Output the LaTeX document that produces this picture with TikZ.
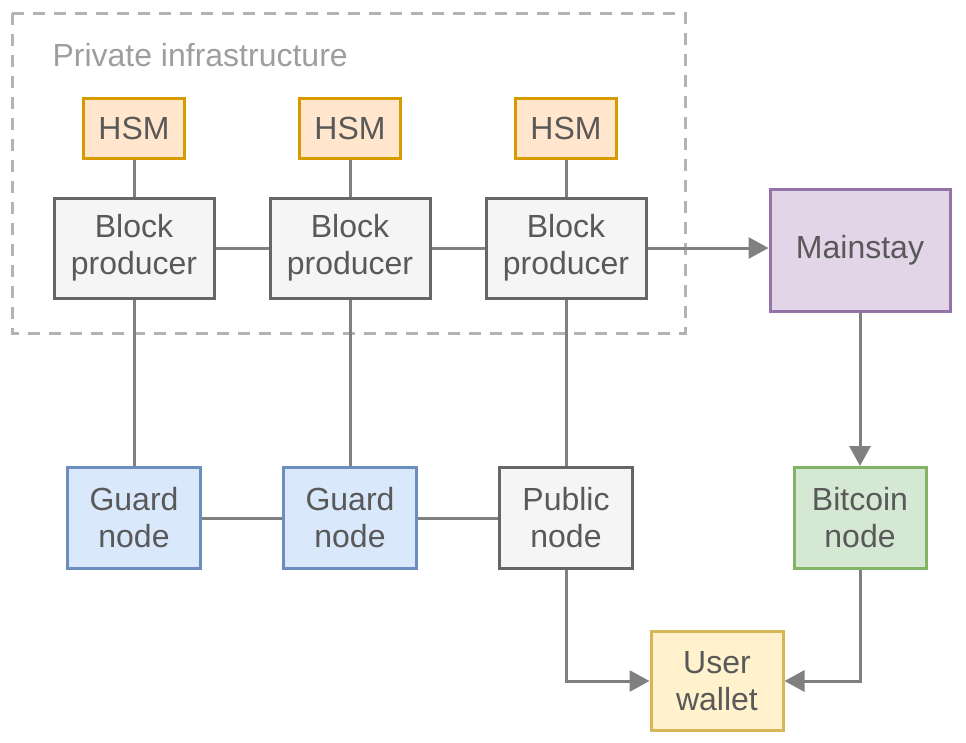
\documentclass[tikz,border=0pt]{standalone}
\usepackage{fontspec}
\setmainfont{Liberation Sans}
\usetikzlibrary{positioning,arrows.meta}

\definecolor{txtgray}{HTML}{595959}
\definecolor{lblgray}{HTML}{9E9E9E}
\definecolor{linkgray}{HTML}{808080}
\definecolor{framegray}{HTML}{B3B3B3}
\definecolor{hsmfill}{HTML}{FFE6CC}
\definecolor{hsmdraw}{HTML}{D79B00}
\definecolor{bpfill}{HTML}{F5F5F5}
\definecolor{bpdraw}{HTML}{666666}
\definecolor{msfill}{HTML}{E1D5E7}
\definecolor{msdraw}{HTML}{9673A6}
\definecolor{gdfill}{HTML}{DAE8FC}
\definecolor{gddraw}{HTML}{6C8EBF}
\definecolor{btcfill}{HTML}{D5E8D4}
\definecolor{btcdraw}{HTML}{82B366}
\definecolor{wlfill}{HTML}{FFF2CC}
\definecolor{wldraw}{HTML}{D6B656}

\tikzset{
  box/.style={draw, line width=3pt, inner sep=0pt, align=center, text=txtgray,
    font=\fontsize{32}{37}\selectfont},
  hsm/.style={box, draw=hsmdraw, fill=hsmfill, minimum width=101pt, minimum height=60pt},
  producer/.style={box, draw=bpdraw, fill=bpfill, minimum width=160pt, minimum height=100pt},
  mainstay/.style={box, draw=msdraw, fill=msfill, minimum width=180pt, minimum height=122pt},
  guard/.style={box, draw=gddraw, fill=gdfill, minimum width=133pt, minimum height=101pt},
  public/.style={box, draw=bpdraw, fill=bpfill, minimum width=133pt, minimum height=101pt},
  bitcoin/.style={box, draw=btcdraw, fill=btcfill, minimum width=132pt, minimum height=101pt},
  wallet/.style={box, draw=wldraw, fill=wlfill, minimum width=132pt, minimum height=99pt},
  link/.style={draw=linkgray, line width=3pt},
  flow/.style={link, -{Triangle[length=20pt,width=21pt]}},
  frame/.style={draw=framegray, line width=3pt, dash pattern=on 12pt off 9pt}
}

\begin{document}
\begin{tikzpicture}[x=1pt, y=-1pt, on grid, node distance=216pt]
    \useasboundingbox (0,0) rectangle (966,742);

    % private part
    \draw[frame] (12,13) rectangle (685,333);
    \node[anchor=west, text=lblgray, font=\fontsize{32}{38}\selectfont] (private) at (49,55) {Private infrastructure};

    \node[producer] (bp1) at (134,248) {Block\\producer};
    \node[producer, right=of bp1] (bp2) {Block\\producer};
    \node[producer, right=of bp2] (bp3) {Block\\producer};
    \node[hsm, above=120pt of bp1] (hsm1) {HSM};
    \node[hsm, above=120pt of bp2] (hsm2) {HSM};
    \node[hsm, above=120pt of bp3] (hsm3) {HSM};

    % public part
    \node[mainstay, right=294pt of bp3, yshift=-2pt] (ms) {Mainstay};
    \node[guard, below=270pt of bp1] (gd1) {Guard\\node};
    \node[guard, below=270pt of bp2] (gd2) {Guard\\node};
    \node[public, below=270pt of bp3] (pub) {Public\\node};
    \node[bitcoin] (btc) at (ms |- pub) {Bitcoin\\node};
    \node[wallet] (wl) at (717,681) {User\\wallet};

    \path[link]
    (hsm1) edge (bp1)
    (hsm2) edge (bp2)
    (hsm3) edge (bp3)
    (bp1) edge (bp2)
          edge (gd1)
    (bp2) edge (bp3)
          edge (gd2)
    (bp3) edge (pub)
    (gd1) edge (gd2)
    (gd2) edge (pub);

    \draw[flow] (bp3) -- (bp3 -| ms.west);
    \draw[flow] (ms) -- (btc);
    \draw[flow] (pub) |- (wl);
    \draw[flow] (btc) |- (wl);
\end{tikzpicture}
\end{document}
